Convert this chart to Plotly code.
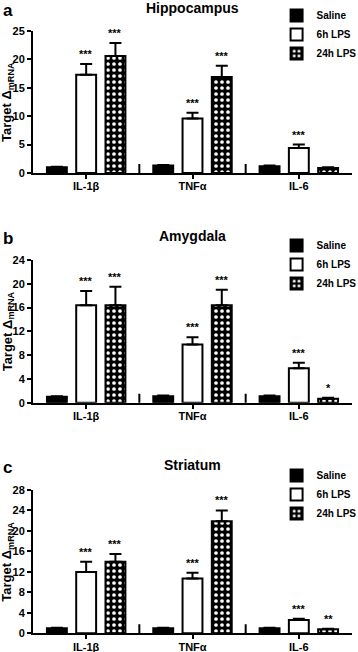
import plotly.graph_objects as go

categories = ["IL-1β", "TNFα", "IL-6"]
groups = ["Saline", "6h LPS", "24h LPS"]

panels = ["a", "b", "c"]
titles = ["Hippocampus", "Amygdala", "Striatum"]

# values [panel][group][category]
means_a = [[1.0, 1.3, 1.2], [17.3, 9.6, 4.4], [20.6, 16.9, 0.9]]
errs_a = [[0.1, 0.1, 0.1], [1.9, 1.0, 0.6], [2.3, 2.0, 0.1]]
stars_a = [["", "", ""], ["***", "***", "***"], ["***", "***", ""]]

means_b = [[1.0, 1.1, 1.1], [16.4, 9.8, 5.8], [16.4, 16.4, 0.67]]
errs_b = [[0.1, 0.1, 0.1], [2.4, 1.2, 0.9], [3.1, 2.6, 0.15]]
stars_b = [["", "", ""], ["***", "***", "***"], ["***", "***", "*"]]

means_c = [[1.0, 1.0, 1.0], [12.0, 10.7, 2.6], [14.0, 21.9, 0.78]]
errs_c = [[0.1, 0.1, 0.1], [2.0, 1.15, 0.25], [1.5, 2.1, 0.1]]
stars_c = [["", "", ""], ["***", "***", "***"], ["***", "***", "**"]]

y_max = [25, 24, 28]
y_dtick = [5, 4, 4]

W, H = 358, 652
# pixel geometry of each panel (top of y axis, zero line)
panel_px = [(31, 173), (260, 402.7), (490, 633.3)]
x_px = (33, 352)
legend_top_px = [1, 231, 461]
title_px = [8, 236, 465]

BARGAP = 0.174
BARGROUPGAP = 0.32

FONT = "Liberation Sans"

fig = go.Figure()

data = [(means_a, errs_a, stars_a), (means_b, errs_b, stars_b), (means_c, errs_c, stars_c)]
annotations = []
shapes = []

for p in range(3):
    means, errs, stars = data[p]
    sfx = "" if p == 0 else str(p + 1)
    xa, ya = "x" + sfx, "y" + sfx
    lg = "legend" + sfx
    for g in range(3):
        if g == 0:
            marker = dict(color="black", line=dict(color="black", width=2))
        elif g == 1:
            marker = dict(color="white", line=dict(color="black", width=2))
        else:
            marker = dict(color="black", line=dict(color="black", width=2),
                          pattern=dict(shape=".", fgcolor="white", bgcolor="black",
                                       size=6, solidity=0.3, fillmode="replace"))
        fig.add_trace(go.Bar(
            x=categories, y=means[g], name=groups[g], marker=marker,
            error_y=dict(type="data", array=errs[g], arrayminus=[0, 0, 0],
                         symmetric=False, color="black", thickness=2, width=6),
            xaxis=xa, yaxis=ya, legend=lg, showlegend=True,
        ))
        slot = (1 - BARGAP) / 3
        for c in range(3):
            if stars[g][c]:
                annotations.append(dict(
                    x=c + (g - 1) * slot, y=means[g][c] + errs[g][c],
                    xref=xa, yref=ya, text=stars[g][c], showarrow=False,
                    yanchor="bottom", yshift=2,
                    font=dict(family=FONT, size=11, color="black", weight="bold"),
                ))
    # group separators on the x axis
    for sx in (0.5, 1.5):
        shapes.append(dict(type="line", xref=xa, yref=ya, x0=sx, x1=sx,
                           ysizemode="pixel", yanchor=0, y0=-9, y1=9,
                           line=dict(color="black", width=2)))
    top, zero = panel_px[p]
    dom_y = [1 - zero / H, 1 - top / H]
    dom_x = [x_px[0] / W, x_px[1] / W]
    axis_common = dict(showline=True, linecolor="black", linewidth=2,
                       ticks="outside", tickwidth=2, tickcolor="black",
                       showgrid=False, zeroline=False, automargin=False)
    fig.update_layout(**{
        "xaxis" + sfx: dict(domain=dom_x, anchor=ya, type="category",
                            range=[-0.5, 2.5], ticklen=4, ticklabelstandoff=-2,
                            tickfont=dict(family=FONT, size=11, color="black", weight="bold"),
                            **axis_common),
        "yaxis" + sfx: dict(domain=dom_y, anchor=xa, range=[0, y_max[p]],
                            dtick=y_dtick[p], ticklen=4,
                            tickfont=dict(family=FONT, size=11, color="black", weight="bold"),
                            **axis_common),
        lg: dict(x=1.01, y=1 - legend_top_px[p] / H, xanchor="right", yanchor="top",
                 bgcolor="rgba(0,0,0,0)",
                 font=dict(family=FONT, size=10, color="black", weight="bold"),
                 tracegroupgap=0, itemclick=False),
    })
    # y-axis title
    annotations.append(dict(x=8 / W, y=(dom_y[0] + dom_y[1]) / 2, xref="paper", yref="paper",
                            text="Target Δ<sub>mRNA</sub>", textangle=-90, showarrow=False,
                            xanchor="center", yanchor="middle",
                            font=dict(family=FONT, size=13, color="black", weight="bold")))
    annotations.append(dict(x=(x_px[0] + x_px[1]) / 2 / W, y=1 - title_px[p] / H,
                            xref="paper", yref="paper", text=titles[p], showarrow=False,
                            xanchor="center", yanchor="middle",
                            font=dict(family=FONT, size=14, color="black", weight="bold")))
    annotations.append(dict(x=1 / W, y=1 - (title_px[p] + 2) / H, xref="paper", yref="paper",
                            text=panels[p], showarrow=False, xanchor="left", yanchor="middle",
                            font=dict(family=FONT, size=17, color="black", weight="bold")))

fig.update_layout(
    template="none",
    width=W, height=H, margin=dict(l=0, r=0, t=0, b=0, autoexpand=False),
    paper_bgcolor="white", plot_bgcolor="white",
    barmode="group", bargap=BARGAP, bargroupgap=BARGROUPGAP,
    annotations=annotations, shapes=shapes,
)

fig.write_html("out.html", config={"displayModeBar": False},
               post_script="document.body.style.margin='0';")
